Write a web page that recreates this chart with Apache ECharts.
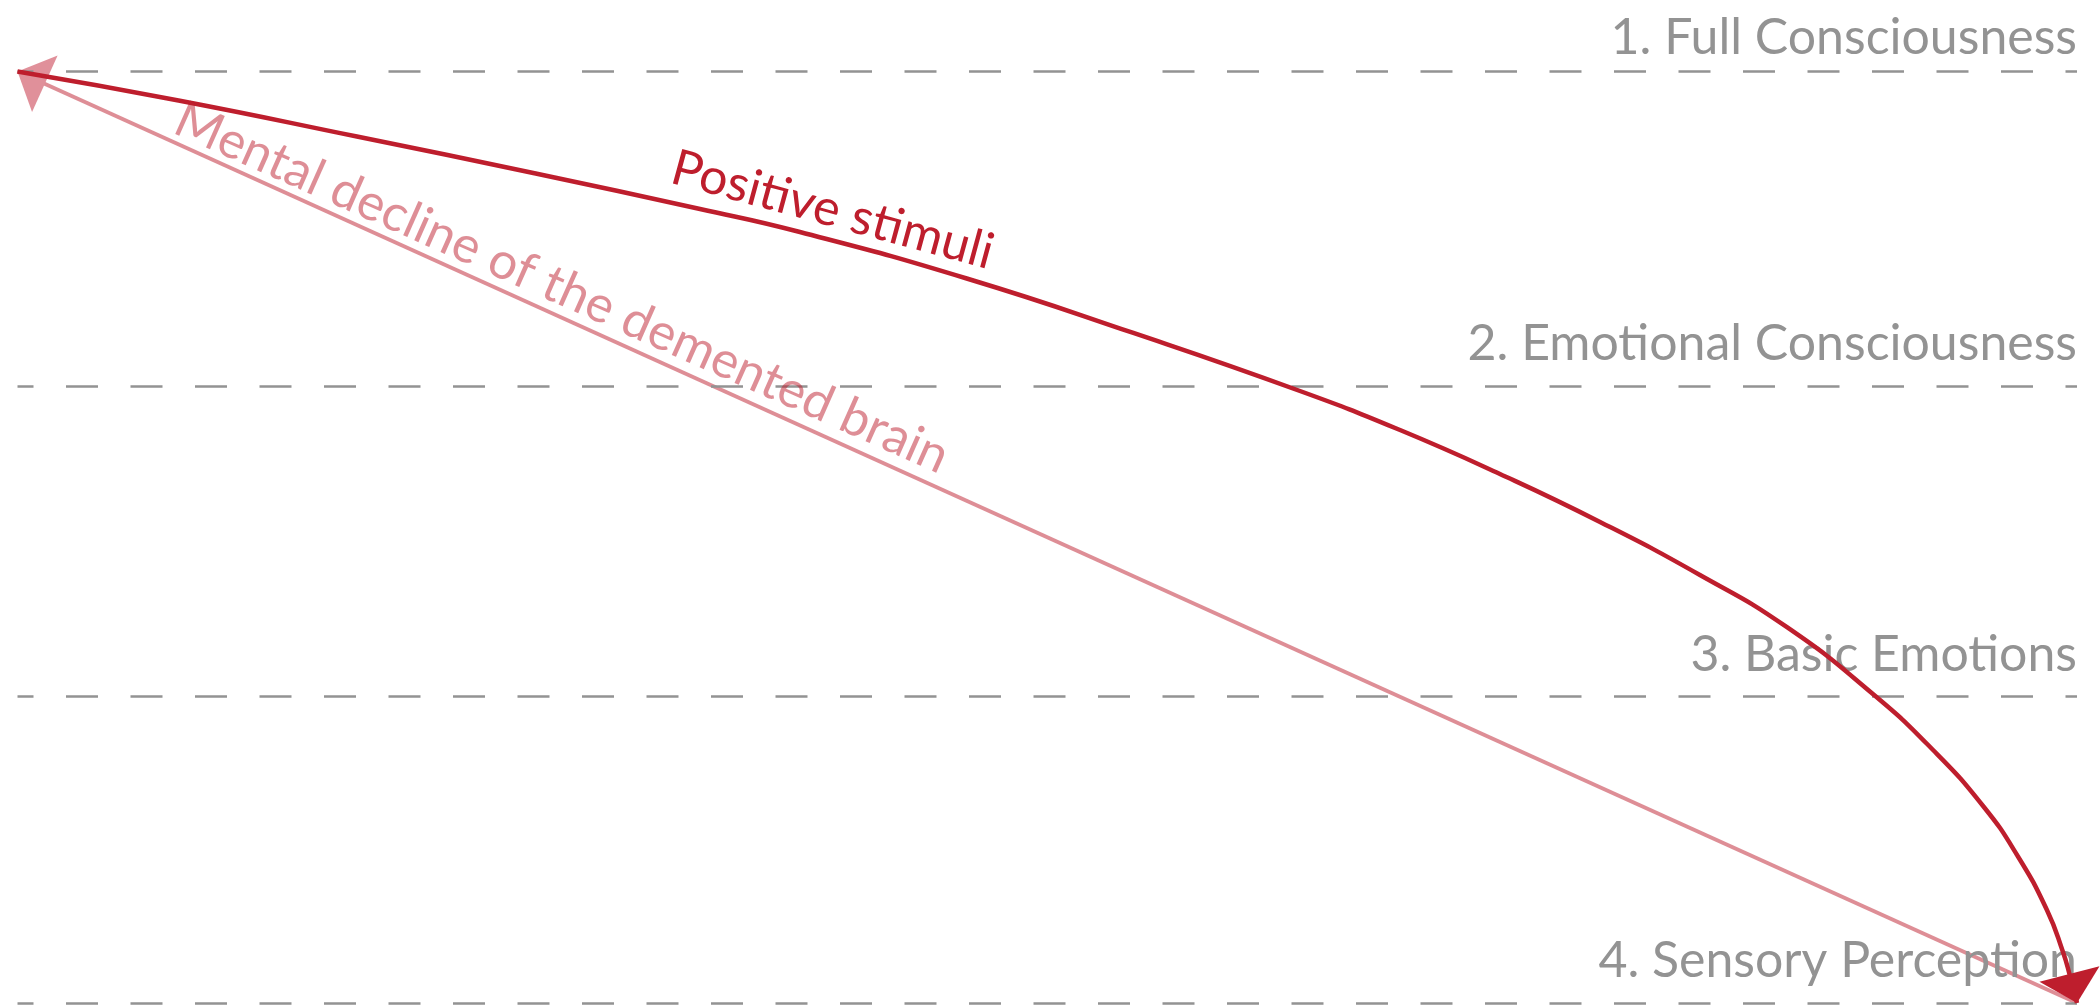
<!DOCTYPE html>
<html>
<head>
<meta charset="utf-8">
<script src="https://cdn.jsdelivr.net/npm/echarts@6/dist/echarts.min.js"></script>
<style>
  html, body { margin: 0; padding: 0; background: #ffffff; }
  #chart { width: 2100px; height: 1005px; }
</style>
</head>
<body>
<div id="chart"></div>
<script>
// ---- data (x: progress 0..100 left→right, y: depth 0..100 top→bottom) ----
const levelNames = ['1. Full Consciousness', '2. Emotional Consciousness', '3. Basic Emotions', '4. Sensory Perception'];
const levelDepth = [0, 33.8, 67.1, 100];

// "Positive stimuli" curve
const stimuliX = [0, 7.82, 16.48, 25.16, 33.14, 37.99, 46.09, 54.18, 62.27, 67.13, 71.98, 76.84, 81.69, 85.90, 90.09, 93.01, 95.44, 97.09, 98.54, 99.32, 99.66, 100];
const stimuliY = [0, 3.11, 6.98, 10.95, 14.76, 17.23, 22.22, 28.07, 34.30, 38.49, 43.21, 48.36, 54.05, 59.63, 66.83, 72.84, 78.85, 84.11, 90.02, 94.53, 97.10, 100];

// "Mental decline" straight line (drawn from bottom-right up to top-left)
const declineX = [100, 0];
const declineY = [100, 0];

// annotation texts along the lines
const annotationTexts = ['Positive stimuli', 'Mental decline of the demented brain'];
const annotationAnchors = [[31.50, 12.81], [7.29, 7.34]];
const annotationAngles = [15.2, 24.0];

// ---- styles ----
const RED = '#be1e2d';
const PINK = '#e0909a';
const PINK_T = 'rgba(190,30,45,0.5)';
const GRAY = '#939393';
const FONT = 'Lato, "Open Sans", sans-serif';

const stimuliData = stimuliX.map((x, i) => [x, stimuliY[i]]);
const declineData = declineX.map((x, i) => [x, declineY[i]]);

// arrow heads: [tipX, tipY, prevX, prevY, colorIndex]
const n = stimuliX.length;
const arrowData = [
  [declineX[1], declineY[1], declineX[0], declineY[0], 0],
  [stimuliX[n - 1], stimuliY[n - 1], stimuliX[n - 2], stimuliY[n - 2], 1]
];
const arrowColors = [PINK, RED];
const ARROW_LEN = 30, ARROW_W = 62;

const chart = echarts.init(document.getElementById('chart'), null, { renderer: 'canvas' });

function arrowRender(params, api) {
  const tip = api.coord([api.value(0), api.value(1)]);
  const prev = api.coord([api.value(2), api.value(3)]);
  const color = arrowColors[api.value(4)];
  let dx = tip[0] - prev[0], dy = tip[1] - prev[1];
  const len = Math.sqrt(dx * dx + dy * dy) || 1;
  dx /= len; dy /= len;
  const bx = tip[0] - dx * ARROW_LEN, by = tip[1] - dy * ARROW_LEN;
  const px = -dy * ARROW_W / 2, py = dx * ARROW_W / 2;
  return {
    type: 'polygon',
    shape: { points: [[tip[0], tip[1]], [bx + px, by + py], [bx - px, by - py]] },
    style: { fill: color, stroke: null }
  };
}

const option = {
  animation: false,
  backgroundColor: '#ffffff',
  grid: { left: 17.5, right: 23, top: 71.5, bottom: 2 },
  xAxis: { type: 'value', min: 0, max: 100, show: false },
  yAxis: { type: 'value', min: 0, max: 100, inverse: true, show: false },
  series: [
    {
      name: 'levels',
      type: 'line',
      data: [],
      silent: true,
      markLine: {
        silent: true,
        symbol: 'none',
        animation: false,
        lineStyle: { color: GRAY, width: 2.6, type: [32, 32.5], dashOffset: 16 },
        emphasis: { disabled: true },
        label: {
          show: true,
          position: 'insideEndTop',
          formatter: '{b}',
          color: GRAY,
          fontFamily: FONT,
          fontSize: 50,
          lineHeight: 50,
          distance: [0, 17]
        },
        data: levelNames.map((name, i) => ({
          name: name,
          yAxis: levelDepth[i],
          label: { distance: [0, i === 0 ? 9 : 17] }
        }))
      }
    },
    {
      name: 'Mental decline of the demented brain',
      type: 'line',
      data: declineData,
      showSymbol: false,
      symbol: 'none',
      clip: false,
      silent: true,
      lineStyle: { color: PINK_T, width: 4 },
      z: 3
    },
    {
      name: 'arrows-pink',
      type: 'custom',
      coordinateSystem: 'cartesian2d',
      data: arrowData.slice(0, 1),
      silent: true,
      clip: false,
      z: 4,
      renderItem: arrowRender
    },
    {
      name: 'Positive stimuli',
      type: 'line',
      data: stimuliData,
      smooth: 0.5,
      showSymbol: false,
      symbol: 'none',
      clip: false,
      silent: true,
      lineStyle: { color: RED, width: 4.5 },
      z: 5
    },
    {
      name: 'arrows-red',
      type: 'custom',
      coordinateSystem: 'cartesian2d',
      data: arrowData.slice(1),
      silent: true,
      clip: false,
      z: 6,
      renderItem: arrowRender
    },
    {
      name: 'annotations',
      type: 'custom',
      coordinateSystem: 'cartesian2d',
      data: annotationAnchors.map((a, i) => [a[0], a[1], i]),
      silent: true,
      clip: false,
      z: 7,
      renderItem: function (params, api) {
        const i = api.value(2);
        const p = api.coord([api.value(0), api.value(1)]);
        return {
          type: 'text',
          x: p[0],
          y: p[1],
          rotation: -annotationAngles[i] * Math.PI / 180,
          style: {
            text: annotationTexts[i],
            fill: i === 0 ? RED : PINK_T,
            fontFamily: FONT,
            fontSize: i === 0 ? 50 : 51,
            lineHeight: 50,
            align: 'left',
            verticalAlign: 'bottom'
          }
        };
      }
    }
  ]
};

chart.setOption(option);
</script>
</body>
</html>
